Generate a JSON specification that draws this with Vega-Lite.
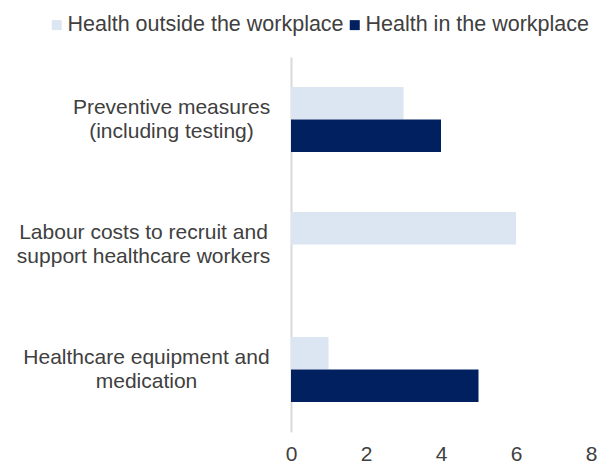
{
  "$schema": "https://vega.github.io/schema/vega-lite/v6.json",
  "width": 300,
  "height": 375,
  "autosize": {"type": "none"},
  "padding": {"left": 291, "top": 57, "right": 7, "bottom": 32},
  "data": {
    "values": [
      {"cat": "Preventive measures|(including testing)", "series": "Health outside the workplace", "value": 3},
      {"cat": "Preventive measures|(including testing)", "series": "Health in the workplace", "value": 4},
      {"cat": "Labour costs to recruit and|support healthcare workers", "series": "Health outside the workplace", "value": 6},
      {"cat": "Labour costs to recruit and|support healthcare workers", "series": "Health in the workplace", "value": 0},
      {"cat": "Healthcare equipment and|medication", "series": "Health outside the workplace", "value": 1},
      {"cat": "Healthcare equipment and|medication", "series": "Health in the workplace", "value": 5}
    ]
  },
  "mark": {"type": "bar"},
  "encoding": {
    "y": {
      "field": "cat",
      "type": "nominal",
      "sort": null,
      "scale": {"paddingInner": 0.48, "paddingOuter": 0.24},
      "axis": {
        "title": null,
        "ticks": false,
        "domainColor": "#d9d9d9",
        "domainWidth": 2,
        "labelExpr": "split(datum.label, '|')",
        "labelAlign": "center",
        "labelBaseline": "middle",
        "labelOffset": -12,
        "labelFont": "Liberation Sans",
        "labelFontSize": 21,
        "labelLineHeight": 24,
        "labelColor": "#404040",
        "labelLimit": 400,
        "labelPadding": {
          "condition": [
            {"test": "datum.value == 'Preventive measures|(including testing)'", "value": 120},
            {"test": "datum.value == 'Labour costs to recruit and|support healthcare workers'", "value": 148}
          ],
          "value": 145
        }
      }
    },
    "yOffset": {
      "field": "series",
      "type": "nominal",
      "sort": ["Health outside the workplace", "Health in the workplace"]
    },
    "x": {
      "field": "value",
      "type": "quantitative",
      "scale": {"domain": [0, 8], "nice": false},
      "axis": {
        "title": null,
        "domain": false,
        "ticks": false,
        "grid": false,
        "values": [0, 2, 4, 6, 8],
        "labelFlush": false,
        "labelPadding": 11,
        "labelFont": "Liberation Sans",
        "labelFontSize": 21,
        "labelColor": "#404040"
      }
    },
    "color": {
      "field": "series",
      "type": "nominal",
      "sort": ["Health outside the workplace", "Health in the workplace"],
      "scale": {"domain": ["Health outside the workplace", "Health in the workplace"], "range": ["#dce6f2", "#002060"]},
      "legend": {
        "title": null,
        "orient": "none",
        "direction": "horizontal",
        "legendX": -245,
        "legendY": -43,
        "symbolType": "square",
        "symbolSize": 100,
        "symbolStrokeWidth": 0,
        "labelFont": "Liberation Sans",
        "labelFontSize": 21.5,
        "labelColor": "#404040",
        "labelOffset": 0,
        "columnPadding": 0,
        "labelLimit": 400
      }
    }
  },
  "config": {"view": {"stroke": null}}
}
